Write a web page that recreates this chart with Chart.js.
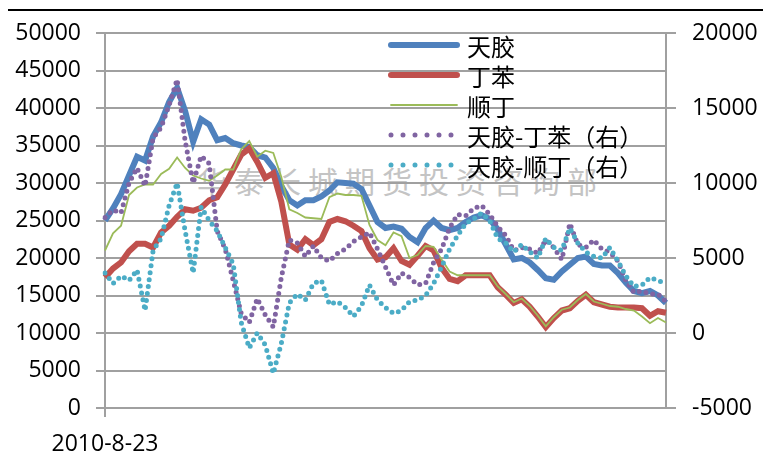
<!DOCTYPE html>
<html>
<head>
<meta charset="utf-8">
<script src="https://cdn.jsdelivr.net/npm/chart.js@4/dist/chart.umd.min.js"></script>
<style>
  body{margin:0;background:#fff;}
  #wrap{position:relative;width:763px;height:456px;overflow:hidden;}
  #topline{position:absolute;left:8px;right:0;top:9px;height:2px;background:#000;}
  #wm{position:absolute;left:197px;top:158px;font:30px "Noto Sans CJK SC";letter-spacing:7px;color:#c4c4c4;white-space:nowrap;}
  #box{position:absolute;left:0;top:0;width:763px;height:456px;}
  #legend{position:absolute;left:388px;top:30px;font:24px "Noto Sans CJK SC";color:#000;}
  #legend .row{height:30px;display:flex;align-items:center;white-space:nowrap;}
  #legend svg{width:72px;height:10px;margin-right:7px;}
</style>
</head>
<body>
<div id="wrap">
  <div id="topline"></div>
  <div id="wm">华泰长城期货投资咨询部</div>
  <div id="box"><canvas id="chart"></canvas></div>
  <div id="legend"></div>
</div>
<script>
const C = {
  blue:'#4F81BD', red:'#C0504D', green:'#9BBB59', purple:'#8064A2', cyan:'#4BACC6',
  grid:'#a0a0a0', text:'#000'
};

const firstDate = '2010-8-23';
const names = ['天胶','丁苯','顺丁','天胶-丁苯（右）','天胶-顺丁（右）'];

// left axis, yuan/ton
const rubber = [25000,26600,28500,31000,33500,33000,36200,38100,40800,42700,39600,35500,38500,37800,35700,36000,
  35300,35000,34800,33700,33400,32000,29600,27700,27000,27700,27700,28200,29000,30100,30000,29900,29200,27000,
  24800,24000,24200,23900,22800,22100,24000,25000,24000,23700,24000,24800,25400,25700,25200,23800,21800,19800,
  20000,19400,18400,17300,17100,18200,19100,20000,20200,19200,19000,19000,18000,16700,15600,15300,15600,15000,14000];
const sbr = [17400,18600,19400,20900,21900,21900,21400,23400,24300,25500,26500,26300,26700,27700,28100,29800,
  31800,33800,34600,32800,30700,31300,27500,21800,21100,22500,21700,22500,24800,25200,24900,24300,23600,21300,
  19800,20100,21300,19600,19100,20300,21600,21000,18700,17200,16900,17700,17700,17700,17700,16100,15100,14000,
  14500,13500,12200,10800,12000,13000,13300,14300,15100,14100,13800,13500,13400,13400,13400,13300,12300,12900,12700];
const br = [21000,23300,24300,28400,29400,29800,29800,31200,31900,33400,32000,31000,30600,30300,31000,31800,
  31800,34500,35600,33500,34300,34000,30800,26500,26000,25400,25300,25200,28100,28600,28400,28400,28300,24400,
  22400,21700,23400,22900,20000,20400,21600,21500,19800,18200,17700,17700,17700,17700,17700,16200,15200,14100,
  14600,13600,12300,10900,12100,13100,13400,14400,15200,14200,13900,13600,13500,13200,13000,12200,11300,12000,11400];
// right axis, spreads
const spreadSbr = [7700,8200,8000,10000,11000,9800,13000,13700,15200,16900,12800,10000,11800,11300,6800,5600,
  3500,1300,700,2300,1200,400,3700,6200,6000,5100,5800,5000,4800,5300,5600,6100,6400,6700,
  5600,4400,3200,4000,3700,3200,3300,4700,5600,7000,7900,7800,8300,8500,7900,7100,6500,5500,
  5700,5600,5300,6200,5700,4900,7300,5900,5700,6200,5600,5400,4800,3500,2700,2800,2600,2600,2100];
const spreadBr = [4000,3300,3800,3500,4200,1500,5500,6300,8500,10000,6800,4000,8400,7500,6800,5700,
  4600,700,-1000,0,-800,-2700,-700,2000,2600,2200,3300,3500,1900,2100,1700,1100,1800,3200,
  2200,1700,1300,1500,2100,2200,2500,3300,4400,5600,6500,7300,7600,8000,7500,6300,6000,5400,
  5900,5400,5000,6300,5700,5500,7000,6000,5400,5100,5000,5700,4800,3800,3100,3200,3700,3500,3300];

const categories = rubber.map((_, i) => i === 0 ? firstDate : '');
const tickFont = {family:'Open Sans', size:23};
const plain = v => String(v);

const solid = (label, data, color, w, order) =>
  ({label, data, borderColor:color, borderWidth:w, pointRadius:0, tension:0, yAxisID:'y', order});
const dotted = (label, data, color, order) =>
  ({label, data, borderColor:color, borderWidth:5, borderDash:[0,7], borderCapStyle:'round',
    pointRadius:0, tension:0, yAxisID:'y1', order});

const datasets = [
  solid(names[0], rubber, C.blue, 6, 5),
  solid(names[1], sbr, C.red, 6, 4),
  solid(names[2], br, C.green, 1.8, 3),
  dotted(names[3], spreadSbr, C.purple, 2),
  dotted(names[4], spreadBr, C.cyan, 1),
];

new Chart(document.getElementById('chart'), {
  type:'line',
  data:{labels:categories, datasets},
  options:{
    responsive:true, maintainAspectRatio:false, animation:false,
    layout:{padding:{top:33, left:0, right:0, bottom:0}},
    plugins:{legend:{display:false}, tooltip:{enabled:false}},
    scales:{
      x:{offset:false,
         grid:{drawOnChartArea:false, tickLength:9, lineWidth:2,
               color:c => c.index === 0 ? C.grid : 'rgba(0,0,0,0)'},
         border:{color:C.grid, width:2},
         ticks:{autoSkip:false, maxRotation:0, padding:14, color:C.text, font:tickFont},
         afterFit:s => { s.height = 48; }},
      y:{position:'left', min:0, max:50000,
         grid:{color:C.grid, lineWidth:2, tickLength:9},
         border:{color:C.grid, width:2},
         ticks:{stepSize:5000, padding:15, color:C.text, font:tickFont, callback:plain},
         afterFit:s => { s.width = 105; }},
      y1:{position:'right', min:-5000, max:20000,
         grid:{drawOnChartArea:false, color:C.grid, lineWidth:2, tickLength:10},
         border:{color:C.grid, width:2},
         ticks:{stepSize:5000, padding:16, color:C.text, font:tickFont, callback:plain},
         afterFit:s => { s.width = 97; }}
    }
  }
});

// legend inside the plot, as in the original
const lg = document.getElementById('legend');
datasets.forEach(ds => {
  const row = document.createElement('div');
  row.className = 'row';
  const dash = ds.borderDash ? ' stroke-dasharray="0 12"' : '';
  const w = ds.borderDash ? 5 : ds.borderWidth;
  row.innerHTML = '<svg viewBox="0 0 72 10"><line x1="3" y1="5" x2="69" y2="5" stroke="' + ds.borderColor +
    '" stroke-width="' + w + '" stroke-linecap="round"' + dash + '/></svg><span>' + ds.label + '</span>';
  lg.appendChild(row);
});
</script>
</body>
</html>
